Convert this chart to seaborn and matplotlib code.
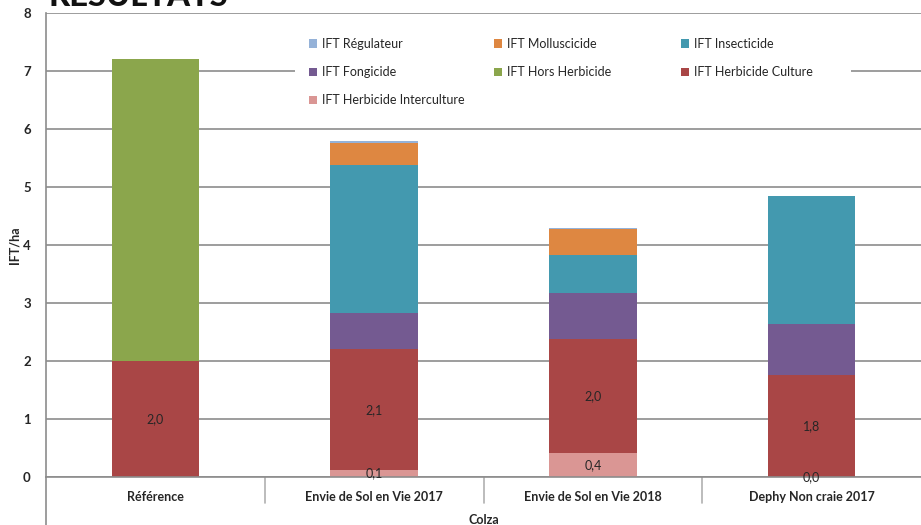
import numpy as np
import pandas as pd
import matplotlib
matplotlib.use("Agg")
import matplotlib.pyplot as plt
import seaborn as sns
from matplotlib.patches import Patch, Rectangle
from matplotlib.lines import Line2D
from matplotlib.legend import Legend

# ── DATA ───────────────────────────────────────────────────────────────────────
categories = ["Référence", "Envie de Sol en Vie 2017",
              "Envie de Sol en Vie 2018", "Dephy Non craie 2017"]

# stacked from bottom to top
herb_interculture = [np.nan, 0.12, 0.41, 0.0]
herb_culture      = [2.00, 2.08, 1.97, 1.76]
hors_herbicide    = [5.20, 0.0, 0.0, 0.0]
fongicide         = [0.0, 0.63, 0.79, 0.88]
insecticide       = [0.0, 2.55, 0.66, 2.20]
molluscicide      = [0.0, 0.38, 0.45, 0.0]
regulateur        = [0.0, 0.03, 0.02, 0.0]

series_names = ["IFT Herbicide Interculture", "IFT Herbicide Culture",
                "IFT Hors Herbicide", "IFT Fongicide", "IFT Insecticide",
                "IFT Molluscicide", "IFT Régulateur"]
series_vals = [herb_interculture, herb_culture, hors_herbicide, fongicide,
               insecticide, molluscicide, regulateur]
COLORS = {
    "IFT Herbicide Interculture": "#DA9694",
    "IFT Herbicide Culture":      "#A94646",
    "IFT Hors Herbicide":         "#8BA64C",
    "IFT Fongicide":              "#745A91",
    "IFT Insecticide":            "#4399AF",
    "IFT Molluscicide":           "#DE8741",
    "IFT Régulateur":             "#95B2D8",
}
# ───────────────────────────────────────────────────────────────────────────────

W, H = 921, 525
GRID = "#8c8c8c"
TXT = "#262626"

sns.set_style("white")
plt.rcParams["font.family"] = ["Lato", "DejaVu Sans"]

fig = plt.figure(figsize=(W / 100, H / 100), dpi=100)
ax = fig.add_axes([46 / W, 48 / H, 875 / W, 464 / H])

# cumulative tops, drawn from the top series down so each overlays the next
vals = np.nan_to_num(np.array(series_vals, dtype=float))
tops = np.cumsum(vals, axis=0)
df = pd.DataFrame(tops.T, columns=series_names)
df["cat"] = categories

for name in series_names[::-1]:
    sns.barplot(data=df, x="cat", y=name, color=COLORS[name], width=0.4,
                saturation=1, errorbar=None, linewidth=0, ax=ax, zorder=2)

# value labels on the two herbicide series
bottoms = tops - vals
for si in (0, 1):
    for ci, v in enumerate(series_vals[si]):
        if np.isnan(v):
            continue
        y = bottoms[si, ci] + v / 2
        ax.text(ci, y, f"{v:.1f}".replace(".", ","), ha="center", va="center",
                fontsize=9, color=TXT, zorder=4)

# axes styling
ax.set_xlim(-0.5, 3.5)
ax.set_ylim(0, 8)
ax.set_yticks(range(0, 9))
ax.yaxis.grid(True, color=GRID, lw=1.2)
ax.set_axisbelow(True)
for s in ("top", "right"):
    ax.spines[s].set_visible(False)
for s in ("left", "bottom"):
    ax.spines[s].set_color(GRID)
    ax.spines[s].set_linewidth(1.2)
ax.tick_params(axis="y", length=4, color=GRID, width=1.2, pad=7,
               labelsize=9.5, labelcolor=TXT)
for lab in ax.get_yticklabels():
    lab.set_fontweight("bold")
ax.tick_params(axis="x", length=0, pad=10, labelsize=9, labelcolor=TXT)
for lab in ax.get_xticklabels():
    lab.set_fontweight("bold")
ax.set_ylabel("IFT/ha", fontsize=9, fontweight="bold", color=TXT)
ax.yaxis.set_label_coords(-26 / 875, 0.5)
ax.set_xlabel("Colza", fontsize=9, fontweight="bold", color=TXT, labelpad=8)

# category separators under the axis
trans = ax.get_xaxis_transform()
for b in (0.5, 1.5, 2.5):
    ax.plot([b, b], [0, -26 / 464], transform=trans, color="#b0b0b0",
            lw=1.2, clip_on=False)
fig.add_artist(Line2D([46 / W, 46 / W], [0, 48 / H], color=GRID, lw=1.2))

# legend: white box + three fixed-width columns (row-wise order)
def to_ax(px, py):
    return (px - 46) / 875, (477 - py) / 464

x0, y0 = to_ax(295, 113)
x1, y1 = to_ax(851, 28)
ax.add_patch(Rectangle((x0, y0), x1 - x0, y1 - y0, transform=ax.transAxes,
                       facecolor="white", edgecolor="none", zorder=1))

legend_cols = [
    ["IFT Régulateur", "IFT Fongicide", "IFT Herbicide Interculture"],
    ["IFT Molluscicide", "IFT Hors Herbicide"],
    ["IFT Insecticide", "IFT Herbicide Culture"],
]
for col_x, names in zip((309, 494, 681), legend_cols):
    handles = [Patch(facecolor=COLORS[n], edgecolor="none") for n in names]
    leg = Legend(ax, handles, names, loc="upper left",
                 bbox_to_anchor=to_ax(col_x, 38), frameon=False,
                 borderaxespad=0, borderpad=0, fontsize=9,
                 handlelength=0.65, handleheight=0.65, handletextpad=0.35,
                 labelspacing=1.3, labelcolor=TXT)
    ax.add_artist(leg)

# clipped section title at the very top
fig.text(48 / W, 1 - 6 / H, "RESULTATS", fontsize=23.5, fontweight="black",
         color="#111111", va="baseline", ha="left")

plt.savefig("out.png", dpi=100)
plt.close()
